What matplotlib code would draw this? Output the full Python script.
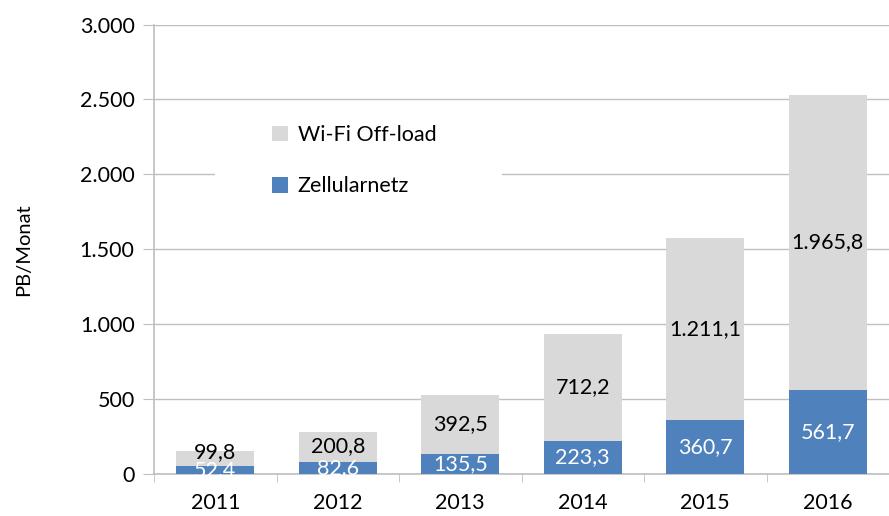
import matplotlib
matplotlib.use("Agg")
import matplotlib.pyplot as plt
from matplotlib.patches import Rectangle
import numpy as np

plt.rcParams['font.family'] = ['Lato', 'DejaVu Sans']

# Daten
jahre = ['2011', '2012', '2013', '2014', '2015', '2016']
zellular = [52.4, 82.6, 135.5, 223.3, 360.7, 561.7]
wifi = [99.8, 200.8, 392.5, 712.2, 1211.1, 1965.8]
y_ticks = [0, 500, 1000, 1500, 2000, 2500, 3000]


def de_fmt(v, dec=1):
    s = f"{v:,.{dec}f}"
    return s.replace(",", "X").replace(".", ",").replace("X", ".")


blau = '#4F81BD'
grau = '#D9D9D9'
gitter = '#BFBFBF'
fs = 15.5

fig = plt.figure(figsize=(8.89, 5.16), dpi=100)
W, H = 889, 516
ax = fig.add_axes([154 / W, 42 / H, (W - 154) / W, 449.5 / H])

x = np.arange(len(jahre))
breite = 0.64
b1 = ax.bar(x, zellular, breite, color=blau, label='Zellularnetz', zorder=3)
b2 = ax.bar(x, wifi, breite, bottom=zellular, color=grau, label='Wi-Fi Off-load', zorder=3)

# kleine Segmente: Beschriftung etwas nach oben schieben (wie in Excel)
min_abstand = 14 * 3000 / 449.5
for i in range(len(jahre)):
    ax.text(x[i], zellular[i] / 2, de_fmt(zellular[i]), ha='center', va='center',
            color='white', fontsize=fs, zorder=4)
    y_wifi = max(zellular[i] + wifi[i] / 2, zellular[i] + min_abstand)
    ax.text(x[i], y_wifi, de_fmt(wifi[i]), ha='center', va='center',
            color='black', fontsize=fs, zorder=4)

ax.set_xlim(-0.5, -0.5 + 735 / 124)
ax.set_ylim(0, 3000)
ax.set_yticks(y_ticks)
ax.set_yticklabels([de_fmt(v, 0) for v in y_ticks], fontsize=fs)
ax.yaxis.grid(True, color=gitter, linewidth=1, zorder=0)
ax.set_axisbelow(True)

ax.set_xticks(x)
ax.set_xticklabels(jahre, fontsize=fs)
ax.tick_params(axis='x', length=0, pad=14)
ax.set_xticks(np.arange(-0.5, len(jahre)), minor=True)
ax.tick_params(axis='x', which='minor', length=6, color=gitter, direction='out')
ax.tick_params(axis='y', length=8, color=gitter, pad=6)

for s in ['top', 'right']:
    ax.spines[s].set_visible(False)
for s in ['left', 'bottom']:
    ax.spines[s].set_color(gitter)
    ax.spines[s].set_linewidth(1.2)

ax.set_ylabel('PB/Monat', fontsize=fs - 1, labelpad=34)

# weisser Hintergrund der Legende
ax.add_patch(Rectangle(((215 - 154) / 735, (474 - 240) / 449.5), (502 - 215) / 735, 135 / 449.5,
                       transform=ax.transAxes, facecolor='white', edgecolor='none', zorder=1))

leg = ax.legend(handles=[b2, b1], loc='upper left',
                bbox_to_anchor=((272 - 154) / 735, (474 - 125) / 449.5),
                fontsize=fs, frameon=False, handlelength=0.75, handleheight=0.75,
                handletextpad=0.45, labelspacing=1.45, borderpad=0,
                borderaxespad=0)
leg.set_zorder(2)

fig.savefig('out.png', dpi=100)
